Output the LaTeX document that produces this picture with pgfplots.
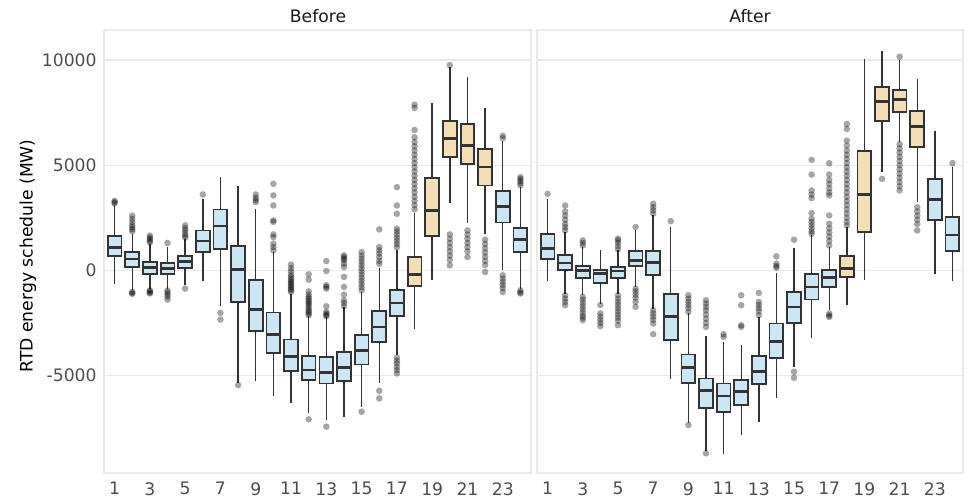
\documentclass[border=0pt]{standalone}
\usepackage{pgfplots}
\pgfplotsset{compat=1.18}
\usepackage{fontspec}
\setmainfont{DejaVu Sans}
\definecolor{bfill}{RGB}{203,230,245}
\definecolor{ofill}{RGB}{245,222,179}
\definecolor{edgec}{RGB}{51,51,51}
\definecolor{gridc}{RGB}{233,233,233}
\definecolor{tickc}{RGB}{77,77,77}
\definecolor{titc}{RGB}{26,26,26}
\newcommand{\tfont}{\fontsize{8.6}{10}\selectfont}
\pgfplotsset{
  outl/.style={only marks, mark=*, mark size=1.65pt,
    mark options={line width=0pt, draw opacity=0, fill=black, fill opacity=0.35}},
  panel/.style={scale only axis, height=221.5pt,
    xmin=0.4, xmax=24.6, ymin=-9640, ymax=11430,
    scaled y ticks=false, scaled x ticks=false,
    axis line style={draw=gridc, line width=0.6pt},
    major tick length=0pt, tick style={draw=none},
    ytick={-5000,0,5000,10000}, ymajorgrids,
    grid style={draw=gridc, line width=0.6pt},
    xtick={1,3,5,7,9,11,13,15,17,19,21,23},
    xticklabels={1,3,5,7,9,11,13,15,17,19,21,23},
    xticklabel style={inner sep=0pt, yshift=-4.5pt, font=\tfont, text=tickc},
    yticklabel style={inner sep=0pt, xshift=-3.5pt, font=\tfont, text=tickc}}
}
% #1 hour, #2 lower whisker, #3 Q1, #4 median, #5 Q3, #6 upper whisker, #7 fill
\newcommand{\bxn}[7]{%
  \pgfmathsetmacro\xl{#1-0.39}\pgfmathsetmacro\xr{#1+0.39}%
  \addplot[draw=edgec, line width=0.7pt, mark=none] coordinates {(#1,#2) (#1,#3)};
  \addplot[draw=edgec, line width=0.7pt, mark=none] coordinates {(#1,#5) (#1,#6)};
  \addplot[draw=edgec, line width=0.9pt, mark=none, fill=#7] coordinates {(\xl,#3) (\xr,#3) (\xr,#5) (\xl,#5)} -- cycle;
  \addplot[draw=edgec, line width=1.35pt, mark=none] coordinates {(\xl,#4) (\xr,#4)};
}
\newcommand{\bx}[8]{\bxn{#1}{#2}{#3}{#4}{#5}{#6}{#7}\addplot[outl] table[row sep=\\, x expr=#1, y index=0] {y\\ #8};}
\begin{document}
\begin{tikzpicture}
\useasboundingbox (0,0) rectangle (483.5pt,-249pt);
\node[rotate=90, font=\tfont, text=black, anchor=center] at (14pt,-128pt) {RTD energy schedule (MW)};
\node[font=\tfont, text=titc, anchor=base] at (159pt,-11.25pt) {Before};
\node[font=\tfont, text=titc, anchor=base] at (375pt,-11.25pt) {After};
\begin{axis}[panel, at={(52pt,-236.5pt)}, anchor=south west, width=213.5pt,
  yticklabels={-5000,0,5000,10000}]
\bx{1}{-633}{664}{1092}{1614}{3085}{bfill}{3180\\3240\\3300\\}
\bx{2}{-949}{158}{538}{870}{1740}{bfill}{1850\\1950\\2050\\2150\\2300\\2450\\2600\\-1020\\-1080\\-1120\\}
\bx{3}{-870}{-158}{127}{396}{1266}{bfill}{1330\\1400\\1480\\1560\\1650\\-960\\-1000\\-1060\\-1100\\}
\bx{4}{-870}{-190}{95}{348}{1107}{bfill}{1300\\-960\\-1050\\-1150\\-1250\\-1390\\}
\bx{5}{-712}{111}{427}{696}{1500}{bfill}{1560\\1650\\1760\\1900\\2000\\2135\\-870\\}
\bx{6}{-506}{870}{1392}{1898}{3400}{bfill}{3607\\}
\bx{7}{-1709}{1028}{2104}{2895}{4430}{bfill}{-2025\\-2341\\}
\bx{8}{-5347}{-1503}{32}{1155}{4002}{bfill}{-5458\\}
\bx{9}{-5252}{-2895}{-1867}{-475}{2895}{bfill}{3243\\3350\\3450\\3607\\}
\bx{10}{-5980}{-3923}{-3053}{-2009}{870}{bfill}{950\\1107\\1266\\1582\\1709\\2300\\2373\\3085\\3560\\4113\\}
\bx{11}{-6328}{-4793}{-4113}{-3290}{-1107}{bfill}{269\\100\\-50\\-200\\-300\\-400\\-480\\-560\\-640\\-720\\-800\\-880\\-950\\-1028\\}
\bx{12}{-6800}{-5221}{-4746}{-4066}{-2183}{bfill}{-190\\-443\\-997\\-1155\\-1270\\-1350\\-1450\\-1530\\-1600\\-1700\\-1800\\-1900\\-1980\\-2060\\-2136\\-7087\\}
\bx{13}{-7119}{-5379}{-4873}{-4113}{-2215}{bfill}{443\\-32\\-711\\-790\\-870\\-1709\\-1978\\-2060\\-2130\\-2183\\-7435\\}
\bx{14}{-6961}{-5252}{-4619}{-3876}{-1740}{bfill}{712\\632\\550\\475\\316\\158\\-316\\-791\\-1155\\-1424\\-1550\\-1700\\}
\bx{15}{-6486}{-4477}{-3797}{-3085}{-1028}{bfill}{870\\700\\550\\400\\250\\100\\-50\\-200\\-350\\-500\\-650\\-800\\-950\\-6724\\}
\bx{16}{-5379}{-3401}{-2689}{-1946}{127}{bfill}{1946\\1107\\950\\800\\633\\450\\316\\-5727\\-6091\\}
\bx{17}{-4034}{-2183}{-1550}{-918}{949}{bfill}{3955\\3085\\2690\\1978\\1850\\1700\\1550\\1400\\1250\\1100\\-4145\\-4300\\-4430\\-4600\\-4750\\-4904\\}
\bx{18}{-2800}{-759}{-206}{633}{2721}{ofill}{7878\\7720\\6676\\6328\\6100\\5900\\5700\\5500\\5300\\5100\\4900\\4700\\4500\\4300\\4100\\3900\\3700\\3500\\3300\\3100\\2900\\}
\bxn{19}{-475}{1614}{2848}{4382}{7942}{ofill}
\bx{20}{3211}{5379}{6281}{7119}{9682}{ofill}{9760\\1709\\1500\\1300\\1100\\900\\700\\500\\237\\}
\bx{21}{2246}{5062}{5948}{6961}{9176}{ofill}{1898\\1700\\1500\\1300\\1100\\900\\633\\}
\bx{22}{1740}{4034}{4920}{5774}{7720}{ofill}{1455\\1250\\1050\\850\\650\\450\\250\\-79\\}
\bx{23}{0}{2278}{3037}{3765}{6170}{bfill}{6280\\6400\\-237\\-400\\-550\\-700\\-850\\-1028\\}
\bx{24}{-870}{886}{1455}{2025}{3955}{bfill}{4050\\4150\\4250\\4350\\4430\\-950\\-1050\\-1100\\}
\end{axis}
\begin{axis}[panel, at={(268.5pt,-236.5pt)}, anchor=south west, width=213pt,
  yticklabels={}]
\bx{1}{-506}{538}{1028}{1709}{3401}{bfill}{3639\\}
\bx{2}{-1107}{0}{348}{712}{1820}{bfill}{1900\\2050\\2200\\2400\\2600\\2800\\3085\\-1186\\-1350\\-1500\\-1661\\}
\bx{3}{-1186}{-364}{0}{221}{1107}{bfill}{1186\\1300\\1424\\-1266\\-1400\\-1550\\-1700\\-1850\\-2000\\-2150\\-2250\\-2373\\}
\bx{4}{-1582}{-601}{-158}{32}{949}{bfill}{-1650\\-2050\\-2200\\-2350\\-2500\\-2658\\}
\bx{5}{-1107}{-364}{-32}{158}{949}{bfill}{1000\\1150\\1300\\1424\\1503\\-1186\\-1350\\-1500\\-1650\\-1800\\-1950\\-2100\\-2250\\-2400\\-2610\\}
\bx{6}{-791}{206}{475}{918}{1898}{bfill}{2056\\-870\\-1000\\-1150\\-1300\\-1500\\-1740\\}
\bx{7}{-1819}{-206}{364}{918}{2610}{bfill}{2700\\2850\\3000\\3164\\-1898\\-2050\\-2200\\-2350\\-2531\\-3037\\}
\bx{8}{-5189}{-3322}{-2183}{-1139}{2056}{bfill}{2341\\}
\bx{9}{-7277}{-5347}{-4619}{-4002}{-2025}{bfill}{-1186\\-1350\\-1500\\-1650\\-1800\\-1978\\-7356\\}
\bx{10}{-8574}{-6534}{-5727}{-5142}{-3116}{bfill}{-1424\\-1580\\-1740\\-1900\\-2100\\-2300\\-2500\\-2689\\-8701\\}
\bx{11}{-8733}{-6724}{-5980}{-5379}{-3401}{bfill}{-3037\\-3164\\}
\bx{12}{-7831}{-6407}{-5774}{-5221}{-3560}{bfill}{-1186\\-1661\\-2610\\-2689\\}
\bx{13}{-7198}{-5410}{-4825}{-4082}{-2215}{bfill}{-1076\\-1503\\-1650\\-1800\\-1950\\-2136\\}
\bx{14}{-6059}{-4161}{-3401}{-2531}{-111}{bfill}{664\\316\\200\\127\\}
\bx{15}{-4600}{-2500}{-1740}{-1028}{1076}{bfill}{1455\\-4825\\-5110\\}
\bx{16}{-3196}{-1392}{-791}{-158}{1661}{bfill}{5252\\4556\\3797\\3600\\3433\\2721\\2452\\2300\\2150\\2000\\1850\\1740\\}
\bx{17}{-1898}{-791}{-348}{0}{1107}{bfill}{5094\\4556\\4300\\4113\\3900\\3700\\3560\\2610\\2215\\2000\\1800\\1600\\1400\\1186\\-2056\\-2150\\-2215\\}
\bx{18}{-1661}{-316}{79}{664}{2056}{ofill}{6961\\6724\\6170\\5932\\5700\\5500\\5300\\5100\\4900\\4700\\4500\\4300\\4100\\3900\\3700\\3500\\3300\\3100\\2900\\2700\\2500\\2300\\2136\\}
\bxn{19}{-443}{1819}{3591}{5664}{10046}{ofill}
\bx{20}{4667}{7087}{8021}{8733}{10410}{ofill}{4350\\}
\bx{21}{6091}{7546}{8116}{8574}{10000}{ofill}{10157\\6000\\5800\\5600\\5400\\5200\\5000\\4800\\4600\\4400\\4200\\4000\\3797\\}
\bx{22}{3243}{5853}{6834}{7562}{9097}{ofill}{3000\\2800\\2600\\2400\\2200\\1898\\}
\bxn{23}{-190}{2405}{3354}{4350}{6644}{bfill}
\bx{24}{-506}{918}{1677}{2531}{4904}{bfill}{5094\\}
\end{axis}
\end{tikzpicture}
\end{document}
